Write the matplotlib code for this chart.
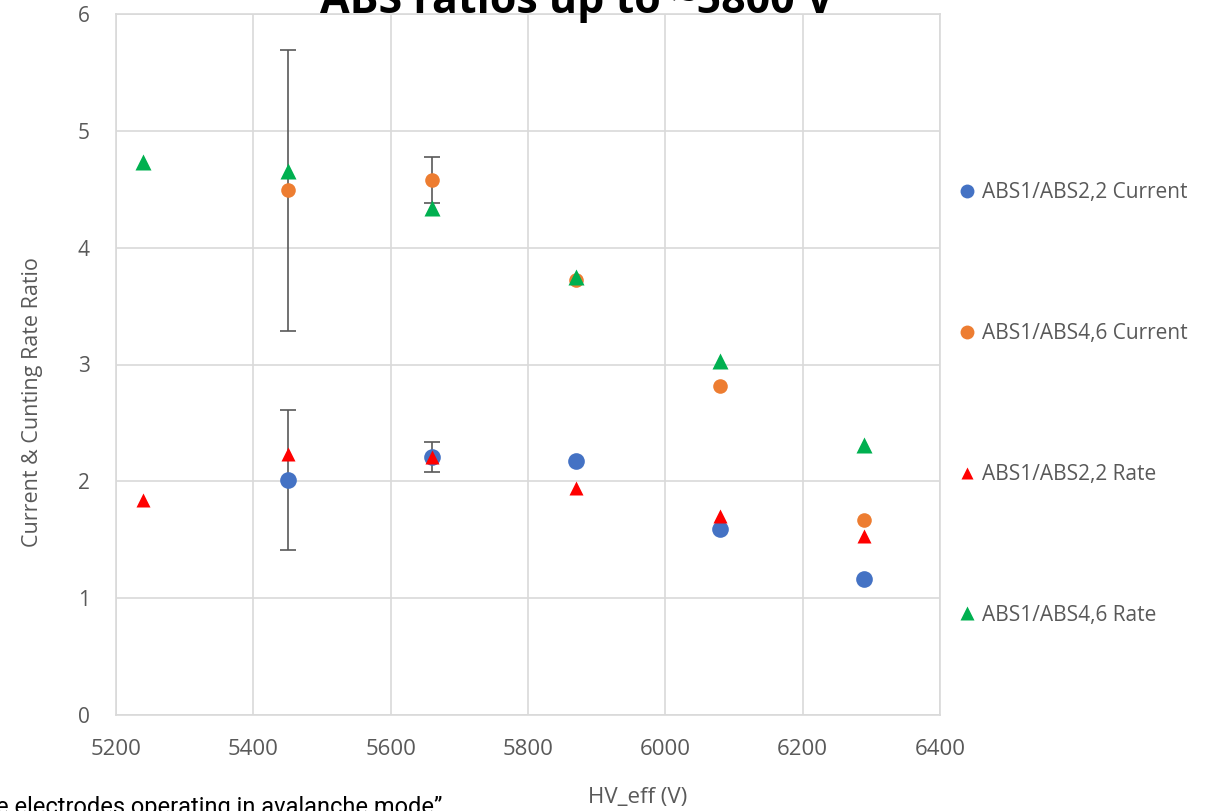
import numpy as np
import matplotlib
matplotlib.use("Agg")
import matplotlib.pyplot as plt
from matplotlib.lines import Line2D

# effective HV points (V)
hv_all = [5240, 5450, 5660, 5870, 6080, 6290]
hv_cur = [5450, 5660, 5870, 6080, 6290]

# current ratios (with errors where measured)
abs12_current = [2.01, 2.21, 2.17, 1.59, 1.16]
abs12_current_err = [0.60, 0.13, 0, 0, 0]
abs146_current = [4.49, 4.58, 3.72, 2.82, 1.67]
abs146_current_err = [1.20, 0.20, 0, 0, 0]

# counting-rate ratios
abs12_rate = [1.84, 2.23, 2.21, 1.94, 1.70, 1.53]
abs146_rate = [4.73, 4.66, 4.34, 3.75, 3.03, 2.31]

labels = ["ABS1/ABS2,2 Current", "ABS1/ABS4,6 Current",
          "ABS1/ABS2,2 Rate", "ABS1/ABS4,6 Rate"]
colors = ["#4472C4", "#ED7D31", "#FF0000", "#00B050"]
gray = "#595959"

plt.rcParams["font.family"] = ["Open Sans", "DejaVu Sans"]

fig = plt.figure(figsize=(12.14, 8.11), dpi=100)
ax = fig.add_axes([116 / 1214, 1 - 715 / 811, 824 / 1214, 701 / 811])

def mask_err(e):
    return [v if v > 0 else np.nan for v in e]

ax.errorbar(hv_cur, abs12_current, yerr=mask_err(abs12_current_err), fmt="none",
            ecolor=gray, elinewidth=1.2, capsize=6, capthick=1.2, zorder=2)
ax.errorbar(hv_cur, abs146_current, yerr=mask_err(abs146_current_err), fmt="none",
            ecolor=gray, elinewidth=1.2, capsize=6, capthick=1.2, zorder=2)

ax.plot(hv_cur, abs12_current, "o", color=colors[0], ms=12, mec="none", zorder=3)
ax.plot(hv_cur, abs146_current, "o", color=colors[1], ms=10.5, mec="none", zorder=3)
ax.plot(hv_all, abs12_rate, "^", color=colors[2], ms=10, mec="none", zorder=4)
ax.plot(hv_all, abs146_rate, "^", color=colors[3], ms=12, mec="none", zorder=4)

ax.set_xlim(5200, 6400)
ax.set_ylim(0, 6)
ax.set_xticks(np.arange(5200, 6401, 200))
ax.set_yticks(np.arange(0, 7, 1))
ax.grid(True, color="#D9D9D9", lw=1.2)
ax.set_axisbelow(True)
for s in ax.spines.values():
    s.set_color("#D9D9D9")
    s.set_linewidth(1.2)
ax.tick_params(length=0, colors=gray, labelsize=15)
ax.tick_params(axis="x", pad=17, labelsize=16)
ax.tick_params(axis="y", pad=19)

fig.text(33 / 1214, 1 - 402 / 811, "Current & Cunting Rate Ratio", rotation=90,
         ha="center", va="center", color=gray, fontsize=15.5)
fig.text(638 / 1214, 1 - 797 / 811, "HV_eff (V)", ha="center", va="center",
         color=gray, fontsize=16)

# title and caption run off the canvas edges
fig.text(577 / 1214, 1 - 13 / 811, "ABS ratios up to ~5800 V", ha="center",
         va="baseline", fontsize=31, fontweight="bold", color="black")
fig.text(-4 / 1214, 1 - 814 / 811, "e electrodes operating in avalanche mode\u201d",
         ha="left", va="baseline", fontsize=17, color="black",
         family=["Roboto", "DejaVu Sans"])

handles = [Line2D([], [], ls="none", marker=m, color=c, ms=s, mec="none")
           for m, c, s in zip(["o", "o", "^", "^"], colors, [10, 10, 9, 10])]
fig.legend(handles, labels, loc="center left",
           bbox_to_anchor=(940 / 1214, 1 - 404 / 811), frameon=False,
           fontsize=15, labelcolor=gray, labelspacing=5.75, handlelength=0.8,
           handletextpad=0.3)

fig.savefig("out.png", dpi=100)
